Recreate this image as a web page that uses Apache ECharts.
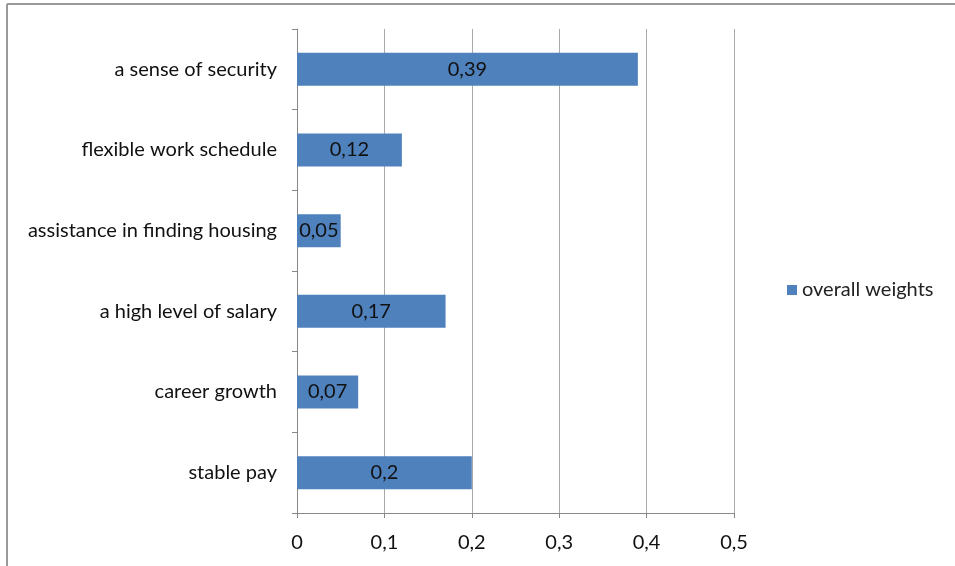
<!DOCTYPE html>
<html>
<head>
<meta charset="utf-8">
<script src="https://cdn.jsdelivr.net/npm/echarts@6/dist/echarts.min.js"></script>
<style>html,body{margin:0;padding:0;background:#fff}#c{width:955px;height:566px}</style>
</head>
<body>
<div id="c"></div>
<script>
var categories = ['stable pay', 'career growth', 'a high level of salary', 'assistance in finding housing', 'flexible work schedule', 'a sense of security'];
var values = [0.2, 0.07, 0.17, 0.05, 0.12, 0.39];
var seriesName = 'overall weights';
var xTicks = [0, 0.1, 0.2, 0.3, 0.4, 0.5];

var FONT = 'Lato, sans-serif';
var fmt = function (v) { return String(v).replace('.', ','); };
var chart = echarts.init(document.getElementById('c'));
chart.setOption({
  backgroundColor: '#fff',
  animation: false,
  textStyle: { fontFamily: FONT },
  graphic: [
    { type: 'line', shape: { x1: 7, y1: 4, x2: 955, y2: 4 }, style: { stroke: '#999', lineWidth: 2 } },
    { type: 'line', shape: { x1: 7, y1: 4, x2: 7, y2: 566 }, style: { stroke: '#999', lineWidth: 2 } }
  ],
  legend: {
    data: [seriesName],
    left: 782, top: 275,
    itemWidth: 10, itemHeight: 10, itemGap: 6,
    icon: 'rect',
    textStyle: { fontSize: 20, color: '#222', fontFamily: FONT }
  },
  grid: { left: 297, right: 221, top: 29, bottom: 53, containLabel: false },
  xAxis: {
    type: 'value', min: 0, max: 0.5, interval: 0.1,
    axisLine: { show: true, lineStyle: { color: '#888', width: 1 } },
    axisTick: { show: true, length: 5, lineStyle: { color: '#888' } },
    splitLine: { show: true, lineStyle: { color: '#aaa', width: 1 } },
    axisLabel: { fontSize: 20, color: '#111', margin: 20, formatter: function (v) { return fmt(Math.round(v * 10) / 10); } }
  },
  yAxis: {
    type: 'category', data: categories,
    axisLine: { show: true, lineStyle: { color: '#888', width: 1 } },
    axisTick: { show: true, length: 5, lineStyle: { color: '#888' } },
    axisLabel: { fontSize: 20, color: '#111', margin: 20 }
  },
  series: [{
    name: seriesName, type: 'bar', data: values,
    barWidth: 33,
    itemStyle: { color: '#4f81bd' },
    label: { show: true, position: 'inside', fontSize: 20, color: '#111', formatter: function (p) { return fmt(p.value); } }
  }]
});
</script>
</body>
</html>
